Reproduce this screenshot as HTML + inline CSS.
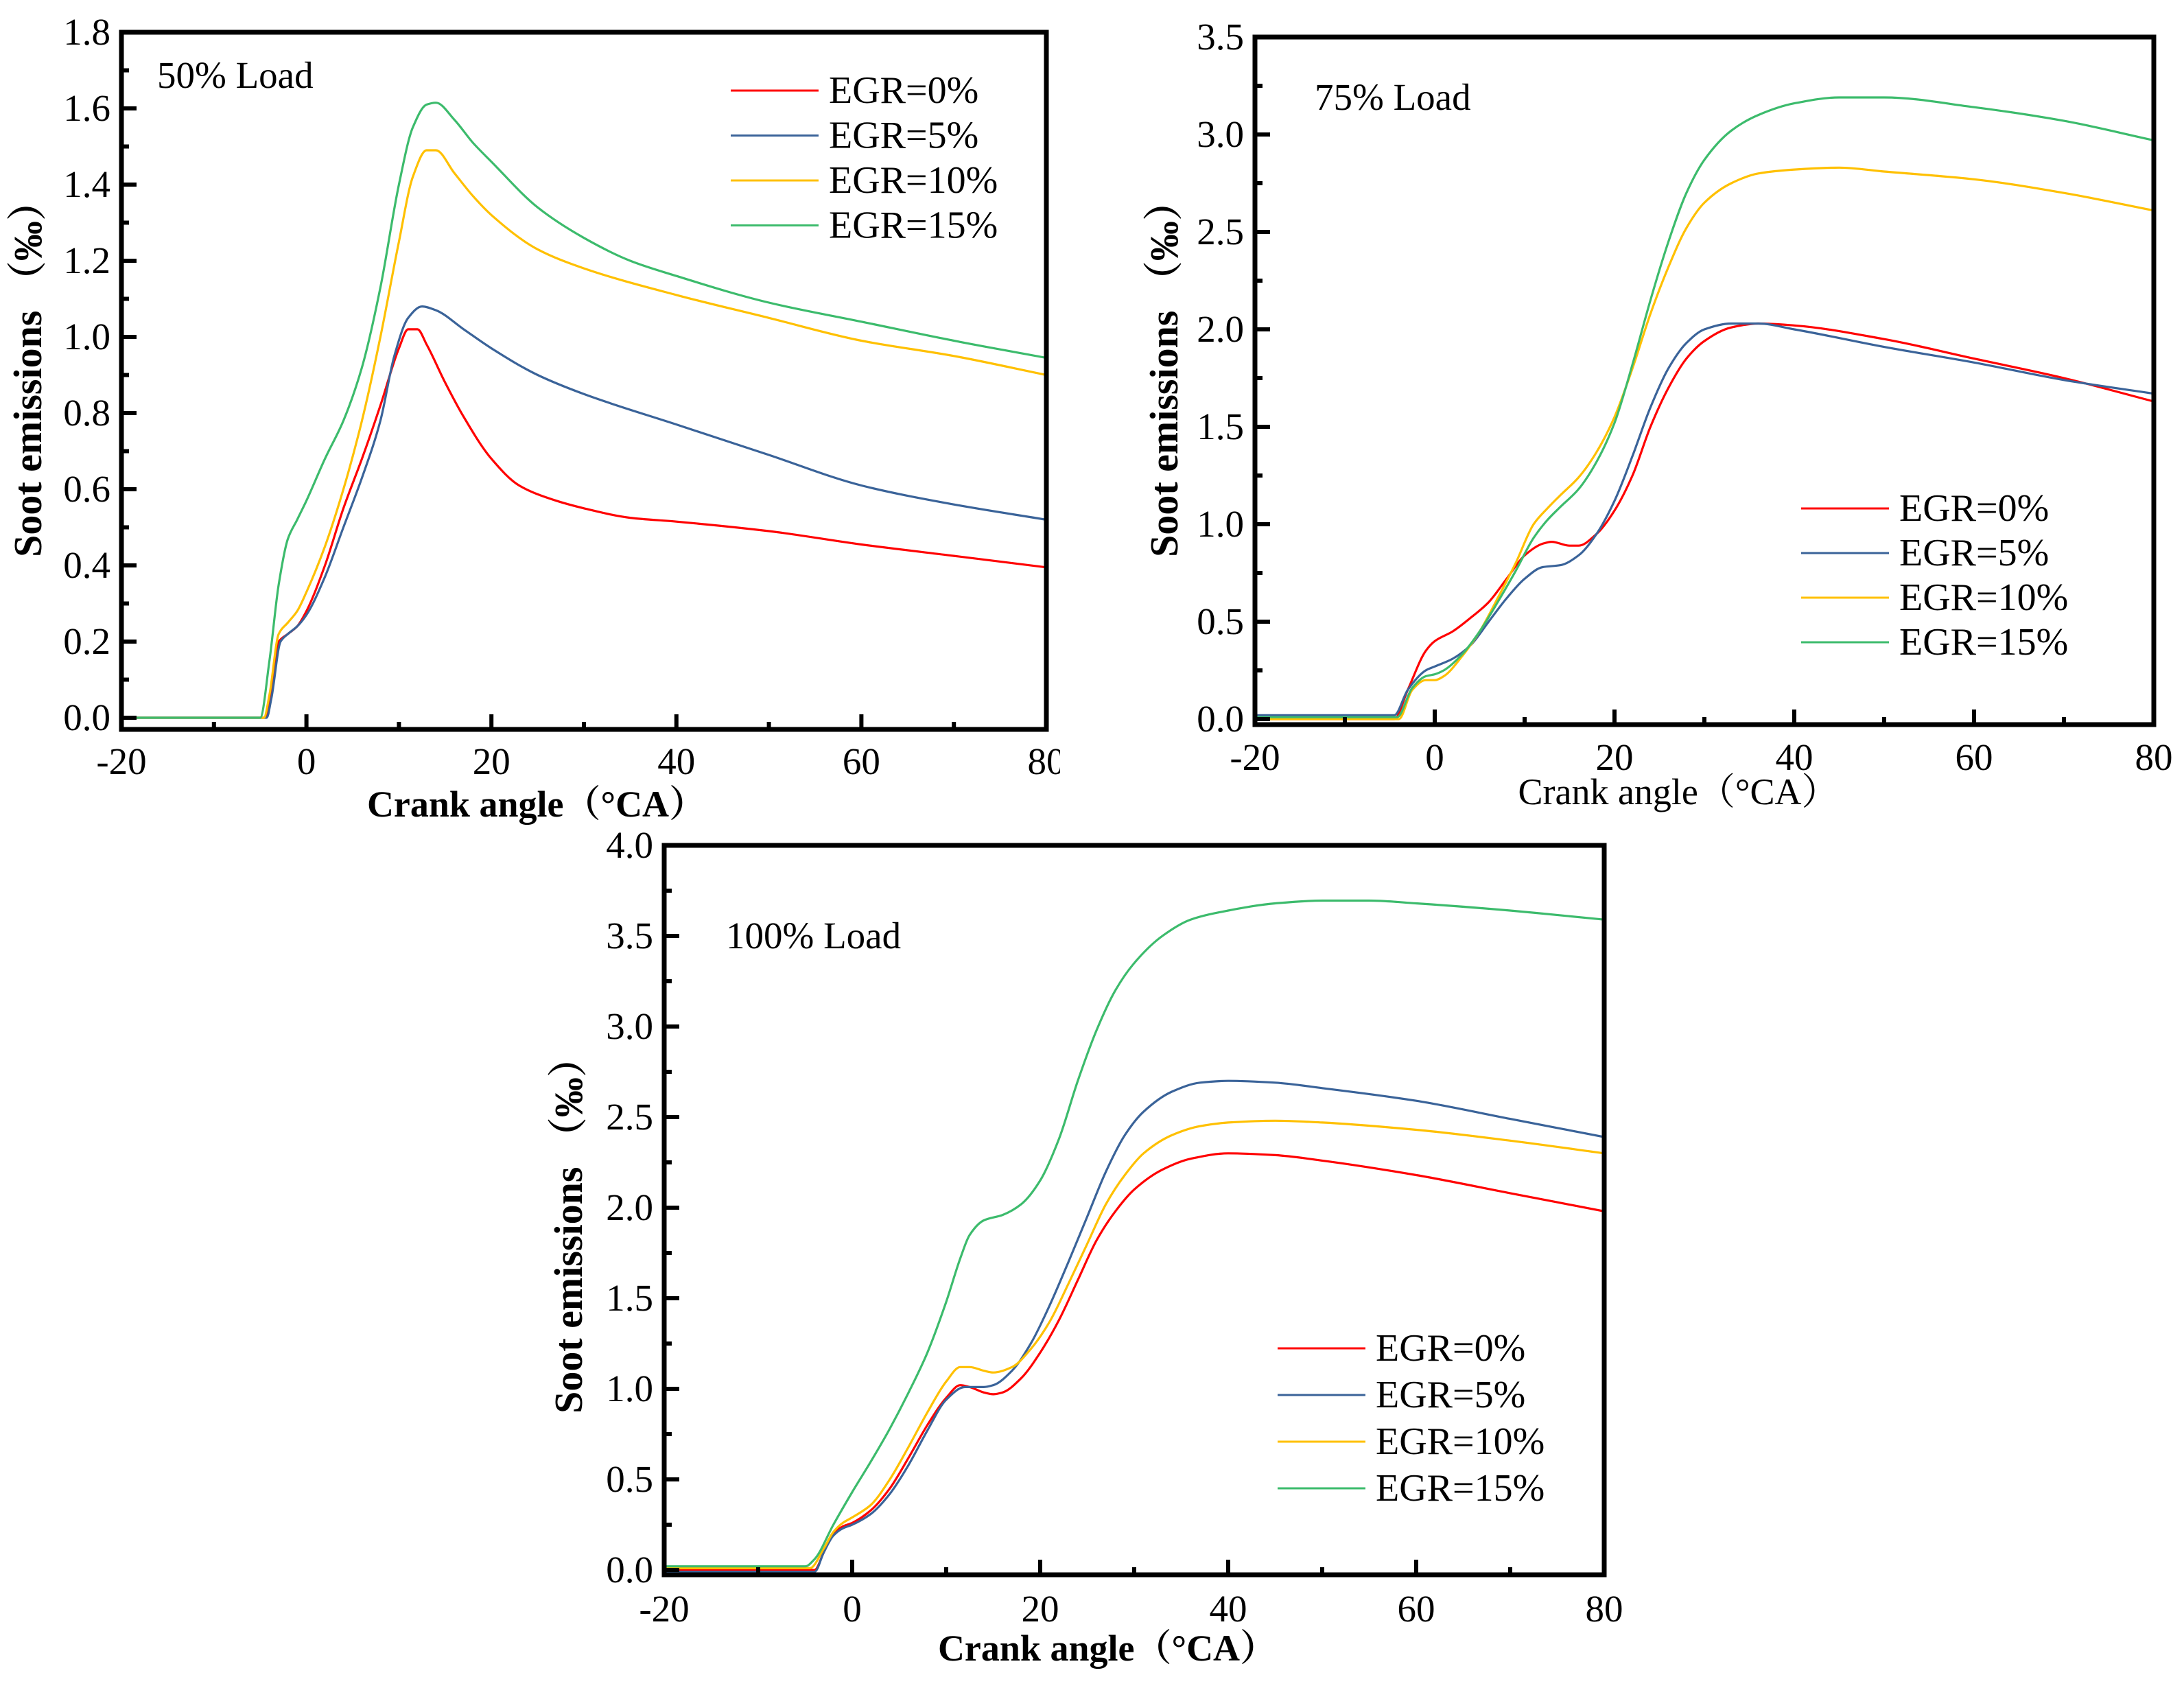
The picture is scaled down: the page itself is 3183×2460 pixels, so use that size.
<!DOCTYPE html>
<html><head><meta charset="utf-8">
<style>
html,body{margin:0;padding:0;background:#fff;}
svg{display:block;}
text{font-family:"Liberation Serif","Noto Serif CJK SC",serif;fill:#000;}
</style></head>
<body>
<svg id="fig" width="3183" height="2460" viewBox="0 0 3183 2460" xmlns="http://www.w3.org/2000/svg"></svg>
<script>
// ---- data ----
const seriesNames = ["EGR=0%","EGR=5%","EGR=10%","EGR=15%"];
const seriesColors = ["#ff0000","#3a6399","#ffc000","#3cbb6c"];
const xTicks = [-20,0,20,40,60,80];

// 50% load
const load50_egr0 = [[-20,0],[-4.5,0],[-4,0.05],[-3,0.2],[-2,0.22],[-1,0.24],[0,0.28],[2,0.4],[4,0.55],[6,0.68],[8,0.82],[10,0.97],[11,1.02],[12,1.02],[13,0.98],[15,0.88],[17,0.79],[20,0.68],[23,0.61],[27,0.57],[30,0.55],[35,0.525],[40,0.515],[50,0.49],[60,0.455],[70,0.425],[80,0.395]];
const load50_egr5 = [[-20,0],[-4.3,0],[-3.8,0.05],[-2.8,0.2],[-2,0.22],[-1,0.24],[0,0.27],[2,0.37],[4,0.5],[6,0.63],[8,0.78],[9.5,0.95],[11,1.05],[12.5,1.08],[14,1.07],[17,1.02],[20,0.97],[25,0.9],[30,0.85],[40,0.77],[50,0.69],[60,0.61],[70,0.56],[80,0.52]];
const load50_egr10 = [[-20,0],[-4.6,0],[-4,0.06],[-3,0.22],[-2,0.25],[-1,0.28],[0,0.33],[2,0.45],[4,0.6],[6,0.78],[8,1.0],[10,1.25],[11.5,1.42],[13,1.49],[14,1.49],[16,1.43],[18,1.37],[20,1.32],[25,1.23],[30,1.18],[40,1.11],[50,1.05],[60,0.99],[70,0.95],[80,0.9]];
const load50_egr15 = [[-20,0],[-5,0],[-4,0.15],[-3,0.35],[-2,0.47],[-1,0.52],[0,0.57],[2,0.68],[4,0.78],[6,0.92],[8,1.13],[10,1.4],[11.5,1.55],[13,1.61],[14,1.615],[16,1.57],[18,1.51],[20,1.46],[25,1.34],[30,1.26],[35,1.2],[40,1.16],[50,1.09],[60,1.04],[70,0.99],[80,0.945]];
const yTicks50 = ["0.0","0.2","0.4","0.6","0.8","1.0","1.2","1.4","1.6","1.8"];

// 75% load
const load75_egr0 = [[-20,0],[-4.5,0],[-3,0.15],[-1,0.35],[0,0.4],[2,0.45],[4,0.52],[6,0.6],[8,0.72],[10,0.84],[12,0.9],[13,0.91],[15,0.89],[16,0.89],[18,0.95],[20,1.07],[22,1.25],[24,1.5],[26,1.7],[28,1.85],[30,1.94],[33,2.01],[36,2.03],[40,2.02],[50,1.95],[60,1.85],[70,1.75],[80,1.63]];
const load75_egr5 = [[-20,0.02],[-4.5,0.02],[-3,0.15],[-1,0.25],[0,0.27],[2,0.31],[4,0.38],[6,0.5],[8,0.62],[10,0.72],[12,0.78],[14,0.79],[16,0.84],[18,0.95],[20,1.12],[22,1.35],[24,1.6],[26,1.8],[28,1.93],[30,2.0],[33,2.03],[36,2.03],[40,2.0],[50,1.91],[60,1.83],[70,1.74],[80,1.67]];
const load75_egr10 = [[-20,0],[-4,0],[-2.5,0.15],[-1,0.2],[0,0.2],[1,0.22],[3,0.32],[5,0.45],[7,0.62],[9,0.8],[11,1.0],[12.5,1.08],[14,1.15],[16,1.24],[18,1.37],[20,1.55],[22,1.8],[24,2.08],[26,2.32],[28,2.52],[30,2.65],[33,2.75],[36,2.8],[40,2.82],[45,2.83],[50,2.81],[60,2.77],[70,2.7],[80,2.61]];
const load75_egr15 = [[-20,0.01],[-4.2,0.01],[-2.5,0.16],[-1,0.22],[0,0.23],[1,0.25],[3,0.33],[5,0.45],[7,0.6],[9,0.76],[11,0.93],[12.5,1.02],[14,1.09],[16,1.18],[18,1.32],[20,1.52],[22,1.82],[24,2.15],[26,2.45],[28,2.7],[30,2.87],[33,3.02],[36,3.1],[40,3.16],[45,3.19],[50,3.19],[60,3.14],[70,3.07],[80,2.97]];
const yTicks75 = ["0.0","0.5","1.0","1.5","2.0","2.5","3.0","3.5"];

// 100% load
const load100_egr0 = [[-20,0],[-4,0],[-3,0.1],[-2,0.2],[-1,0.24],[0,0.26],[2,0.33],[4,0.45],[6,0.62],[8,0.8],[10,0.95],[11.5,1.02],[12.5,1.01],[14,0.98],[15,0.97],[16,0.98],[18,1.06],[20,1.2],[22,1.38],[24,1.6],[26,1.82],[28,1.98],[30,2.1],[33,2.21],[36,2.27],[40,2.3],[45,2.29],[50,2.26],[60,2.18],[70,2.08],[80,1.98]];
const load100_egr5 = [[-20,-0.01],[-4,-0.01],[-3,0.1],[-2,0.19],[-1,0.23],[0,0.25],[2,0.31],[4,0.42],[6,0.58],[8,0.77],[10,0.94],[12,1.01],[14,1.01],[15,1.02],[17,1.1],[19,1.25],[21,1.46],[23,1.7],[25,1.95],[27,2.2],[29,2.4],[31,2.53],[34,2.64],[37,2.69],[40,2.7],[45,2.69],[50,2.66],[60,2.59],[70,2.49],[80,2.39]];
const load100_egr10 = [[-20,0.01],[-4.5,0.01],[-3,0.12],[-2,0.21],[-1,0.26],[0,0.29],[2,0.36],[4,0.5],[6,0.68],[8,0.87],[10,1.04],[11.5,1.12],[12.5,1.12],[14,1.1],[15,1.09],[17,1.12],[19,1.22],[21,1.37],[23,1.58],[25,1.8],[27,2.02],[29,2.18],[31,2.3],[34,2.4],[37,2.45],[40,2.47],[45,2.48],[50,2.47],[60,2.43],[70,2.37],[80,2.3]];
const load100_egr15 = [[-20,0.02],[-5,0.02],[-4,0.06],[-2,0.25],[0,0.43],[2,0.6],[4,0.78],[6,0.98],[8,1.2],[10,1.48],[11.5,1.72],[12.5,1.85],[14,1.93],[16,1.96],[18,2.02],[20,2.15],[22,2.38],[24,2.7],[26,2.98],[28,3.2],[30,3.35],[33,3.5],[36,3.59],[40,3.64],[45,3.68],[50,3.695],[55,3.695],[60,3.68],[70,3.64],[80,3.59]];
const yTicks100 = ["0.0","0.5","1.0","1.5","2.0","2.5","3.0","3.5","4.0"];

const NS = "http://www.w3.org/2000/svg";
const svg = document.getElementById("fig");
function mk(tag, attrs, parent){
  const e = document.createElementNS(NS, tag);
  for (const k in attrs) e.setAttribute(k, attrs[k]);
  (parent||svg).appendChild(e);
  return e;
}
// monotone cubic (Fritsch-Carlson) path, no overshoot
function smoothPath(pts){
  const n = pts.length;
  const dx=[], m=[], t=new Array(n);
  for (let i=0;i<n-1;i++){ dx[i]=pts[i+1][0]-pts[i][0]; m[i]=(pts[i+1][1]-pts[i][1])/dx[i]; }
  t[0]=m[0]; t[n-1]=m[n-2];
  for (let i=1;i<n-1;i++){
    if (m[i-1]*m[i] <= 0) t[i]=0;
    else { const w1=2*dx[i]+dx[i-1], w2=dx[i]+2*dx[i-1]; t[i]=(w1+w2)/(w1/m[i-1]+w2/m[i]); }
  }
  let d = "M"+pts[0][0].toFixed(1)+","+pts[0][1].toFixed(1);
  for (let i=0;i<n-1;i++){
    const h=dx[i]/3;
    d += " C"+(pts[i][0]+h).toFixed(1)+","+(pts[i][1]+t[i]*h).toFixed(1)+" "+
         (pts[i+1][0]-h).toFixed(1)+","+(pts[i+1][1]-t[i+1]*h).toFixed(1)+" "+
         pts[i+1][0].toFixed(1)+","+pts[i+1][1].toFixed(1);
  }
  return d;
}

function panel(cfg){
  const g = mk("g", {});
  
  
  const xs = v => cfg.L + (v - (-20)) / 100 * (cfg.R - cfg.L);
  const ys = v => cfg.Y0 - v * cfg.ppu;
  const cid = cfg.name+"-clip";
  const defs = mk("defs", {}, g);
  const cp = mk("clipPath", {id:cid}, defs);
  mk("rect", {x:cfg.L, y:cfg.T, width:cfg.R-cfg.L, height:cfg.B-cfg.T}, cp);
  const sg = mk("g", {"clip-path":"url(#"+cid+")"}, g);
  cfg.series.forEach((s,i)=>{
    const p = mk("path", {d:smoothPath(s.map(q=>[xs(q[0]), ys(q[1])])), fill:"none", stroke:seriesColors[i], "stroke-width":3.2, "stroke-linejoin":"round"}, sg);
    
    
  });
  const tg = mk("g", {stroke:"#000","stroke-width":6}, g);
  
  
  cfg.yTicks.forEach((lab,i)=>{
    const v = parseFloat(lab);
    const y = ys(v);
    mk("line",{x1:cfg.L,y1:y,x2:cfg.L+22,y2:y},tg);
    if (i < cfg.yTicks.length-1){
      const ym = ys(v + cfg.yStep/2);
      mk("line",{x1:cfg.L,y1:ym,x2:cfg.L+11,y2:ym},tg);
    }
    const t = mk("text",{x:cfg.L-16,y:y+18,"font-size":55,"text-anchor":"end"},g);
    t.textContent = lab;
    
    
  });
  xTicks.forEach((v,i)=>{
    const x = xs(v);
    mk("line",{x1:x,y1:cfg.B,x2:x,y2:cfg.B-22},tg);
    if (i < xTicks.length-1){
      const xm = xs(v+10);
      mk("line",{x1:xm,y1:cfg.B,x2:xm,y2:cfg.B-11},tg);
    }
    const t = mk("text",{x:x,y:cfg.xLabY,"font-size":55,"text-anchor":"middle"},g);
    t.textContent = String(v);
    
    
  });
  const fr = mk("rect",{x:cfg.L,y:cfg.T,width:cfg.R-cfg.L,height:cfg.B-cfg.T,fill:"none",stroke:"#000","stroke-width":7},g);
  
  
  const ll = mk("text",{x:cfg.loadX,y:cfg.loadY,"font-size":55},g);
  ll.textContent = cfg.loadText;
  
  
  const lg = mk("g",{},g);
  
  
  seriesNames.forEach((n,i)=>{
    const y = cfg.legY + i*cfg.legDy;
    const ln = mk("line",{x1:cfg.legX,y1:y,x2:cfg.legX+128,y2:y,stroke:seriesColors[i],"stroke-width":3},lg);
    
    
    const t = mk("text",{x:cfg.legX+143,y:y+18,"font-size":56},lg);
    t.textContent = n;
    
    
  });
  const xt = mk("text",{x:cfg.xtX,y:cfg.xtY,"font-size":54,"text-anchor":"middle","font-weight":cfg.xBold?"bold":"normal"},g);
  xt.textContent = "Crank angle（°CA）";
  
  
  const yt = mk("text",{x:0,y:0,"font-size":58,"text-anchor":"middle","font-weight":"bold",transform:"translate("+cfg.ytX+","+cfg.ytY+") rotate(-90)"},g);
  yt.textContent = "Soot emissions （‰）";
  
  
}

panel({name:"panel-50-load", L:177, R:1525, T:47, B:1063, Y0:1046, ppu:555, yStep:0.2,
  yTicks:yTicks50, series:[load50_egr0,load50_egr5,load50_egr10,load50_egr15], xLabY:1128,
  loadText:"50% Load", loadX:229, loadY:128, legX:1065, legY:132, legDy:65.5,
  xtX:782, xtY:1190, xBold:true, ytX:60, ytY:538});
panel({name:"panel-75-load", L:1829, R:3139, T:54, B:1056, Y0:1048, ppu:284, yStep:0.5,
  yTicks:yTicks75, series:[load75_egr0,load75_egr5,load75_egr10,load75_egr15], xLabY:1122,
  loadText:"75% Load", loadX:1916, loadY:160, legX:2625, legY:741, legDy:65,
  xtX:2446, xtY:1172, xBold:false, ytX:1716, ytY:538});
panel({name:"panel-100-load", L:968, R:2338, T:1232, B:2295, Y0:2288, ppu:264, yStep:0.5,
  yTicks:yTicks100, series:[load100_egr0,load100_egr5,load100_egr10,load100_egr15], xLabY:2363,
  loadText:"100% Load", loadX:1058, loadY:1382, legX:1862, legY:1965, legDy:68,
  xtX:1614, xtY:2420, xBold:true, ytX:848, ytY:1786});
const cover = mk("rect",{x:1545,y:1085,width:60,height:60,fill:"#fff"});


</script>
</body></html>
